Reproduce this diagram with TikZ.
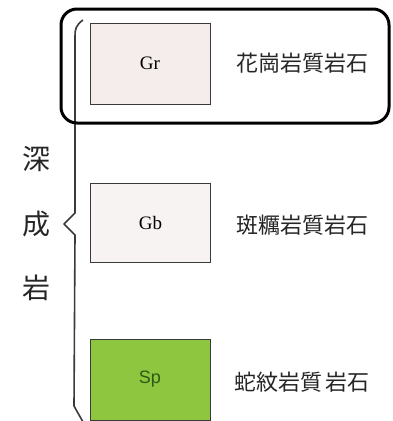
\documentclass[tikz,border=0pt]{standalone}
\usepackage{fontspec}
\newfontfamily\jp{Noto Sans CJK JP}
\newfontfamily\lserif{Liberation Serif}
\newfontfamily\lsans{Liberation Sans}
\definecolor{grfill}{HTML}{F4EDEC}
\definecolor{gbfill}{HTML}{F7F3F2}
\definecolor{spfill}{HTML}{8EC63F}
\definecolor{sptext}{HTML}{2F5A14}
\definecolor{edge}{HTML}{3A3A3A}
\definecolor{labeltext}{HTML}{262626}
\tikzset{
  rockbox/.style={draw=edge, line width=1pt, minimum width=120pt, minimum height=81pt, inner sep=0pt},
  rocklabel/.style={font=\jp\fontsize{22}{24}\selectfont, text=labeltext, inner sep=0pt},
  sidechar/.style={font=\jp\fontsize{28}{30}\selectfont, text=labeltext, inner sep=0pt},
  bracketline/.style={draw=edge, line width=1.6pt, line join=round},
}
\begin{document}
\begin{tikzpicture}[x=1pt,y=-1pt]
\useasboundingbox (0,0) rectangle (392,421);
\fill[white] (0,0) rectangle (392,421);
% rock boxes
\node[rockbox, fill=grfill, font=\lserif\fontsize{19}{21}\selectfont] (gr) at (150,63.5) {Gr};
\node[rockbox, fill=gbfill, minimum height=79pt, font=\lserif\fontsize{19}{21}\selectfont] (gb) at (150.5,222.5) {Gb};
\node[rockbox, fill=spfill, text=sptext, font=\lsans\fontsize{18}{20}\selectfont] (sp) at (150,379.5) {Sp};
% labels
\node[rocklabel] (grl) at (302,63) {花崗岩質岩石};
\node[rocklabel] (gbl) at (302,225) {斑糲岩質岩石};
\node[rocklabel] (spl) at (302,382) {蛇紋岩質\hspace{3pt}岩石};
% side text
\node[sidechar] (c1) at (36,159) {深};
\node[sidechar] (c2) at (36,224) {成};
\node[sidechar] (c3) at (36,288) {岩};
% bracket
\coordinate (btop) at (83,20);
\coordinate (bbot) at (83,422);
\draw[bracketline] (btop) .. controls (76,25) and (75,29) .. (75,36) -- (75,213) -- (64,224) -- (75,235) -- (74,406) -- (bbot);
% highlight frame
\draw[line width=3pt, rounded corners=16pt] (61,9) rectangle (389,123);
\end{tikzpicture}
\end{document}
